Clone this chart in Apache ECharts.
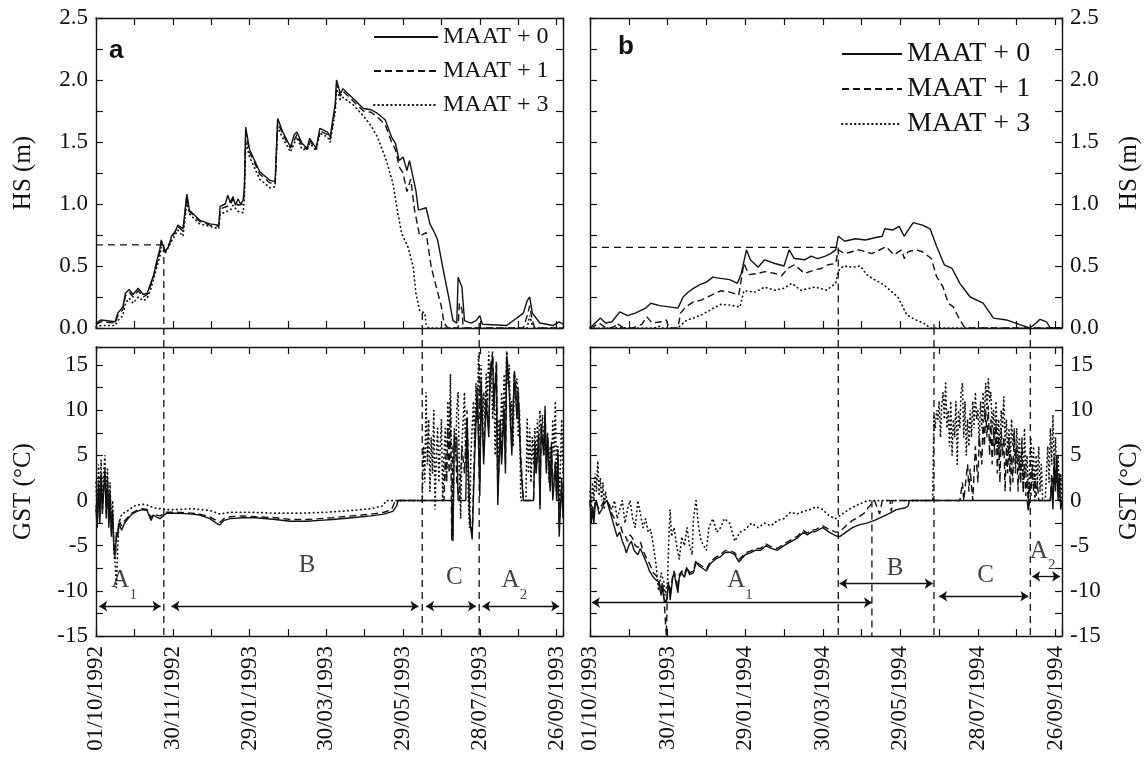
<!DOCTYPE html>
<html><head><meta charset="utf-8">
<script src="https://cdn.jsdelivr.net/npm/echarts/dist/echarts.min.js"></script>
<style>html,body{margin:0;padding:0;background:#fff}#c{width:1146px;height:779px}</style>
</head><body><div id="c"></div>
<script>
// ---------- tick labels (day offsets 0,60,...,360 from 1 October) ----------
const xLabelsA = ['01/10/1992','30/11/1992','29/01/1993','30/03/1993','29/05/1993','28/07/1993','26/09/1993'];
const xLabelsB = ['01/10/1993','30/11/1993','29/01/1994','30/03/1994','29/05/1994','28/07/1994','26/09/1994'];
const seriesNames = ['MAAT + 0','MAAT + 1','MAAT + 3'];

// ---------- panel a : snow height HS (m), [day, value] ----------
const hsA0 = [[0,0.04],[4,0.065],[15,0.05],[17,0.12],[21,0.17],[23,0.28],[26,0.31],[29,0.27],[33,0.32],[37,0.27],[40,0.28],[43,0.37],[45,0.42],[47,0.52],[50,0.64],[51,0.71],[54,0.62],[57,0.66],[59,0.74],[62,0.78],[64,0.83],[68,0.80],[71,1.08],[73,0.95],[81,0.87],[89,0.84],[96,0.83],[97,0.98],[101,1.0],[103,1.07],[105,1.01],[107,1.06],[109,0.99],[111,1.04],[113,1.0],[115,1.03],[116,1.14],[117,1.62],[120,1.44],[128,1.26],[136,1.19],[140,1.18],[142,1.69],[146,1.58],[152,1.46],[155,1.56],[157,1.58],[161,1.49],[165,1.45],[167,1.53],[172,1.45],[175,1.61],[181,1.58],[183,1.54],[187,1.81],[188,2.0],[191,1.89],[193,1.93],[201,1.85],[209,1.77],[215,1.76],[220,1.73],[226,1.68],[231,1.54],[234,1.49],[237,1.35],[240,1.38],[243,1.27],[245,1.35],[250,1.11],[252,0.95],[258,0.97],[261,0.84],[265,0.76],[267,0.71],[271,0.49],[276,0.23],[279,0.06],[282,0.04],[283,0.41],[286,0.33],[288,0.06],[293,0.04],[297,0.06],[300,0.1],[302,0.03],[321,0.02],[334,0.12],[337,0.22],[339,0.25],[341,0.12],[347,0.04],[357,0.02],[362,0.05],[365,0.03]];
const hsA1 = [[0,0.03],[4,0.05],[15,0.04],[17,0.1],[21,0.15],[23,0.26],[26,0.29],[29,0.25],[33,0.3],[37,0.25],[40,0.27],[43,0.35],[47,0.5],[50,0.62],[51,0.69],[54,0.61],[59,0.72],[64,0.82],[68,0.78],[71,1.06],[73,0.94],[81,0.86],[89,0.83],[96,0.82],[97,0.96],[105,0.99],[107,1.04],[111,0.99],[115,1.0],[116,1.12],[117,1.58],[120,1.42],[128,1.24],[136,1.17],[140,1.16],[142,1.66],[146,1.56],[152,1.45],[157,1.56],[161,1.47],[165,1.44],[167,1.51],[172,1.44],[175,1.59],[181,1.56],[183,1.52],[187,1.78],[188,1.97],[191,1.87],[193,1.91],[201,1.83],[209,1.75],[215,1.74],[220,1.7],[226,1.64],[231,1.5],[234,1.44],[237,1.3],[240,1.25],[243,1.1],[246,1.2],[249,0.95],[253,0.74],[258,0.77],[262,0.49],[266,0.33],[270,0.17],[272,0.04],[275,0],[283,0],[284,0.2],[286,0.15],[287,0],[334,0],[337,0.1],[339,0.18],[341,0.06],[343,0],[365,0]];
const hsA3 = [[0,0.01],[4,0.02],[15,0.02],[17,0.06],[21,0.1],[23,0.2],[26,0.24],[29,0.2],[33,0.25],[37,0.22],[40,0.24],[43,0.32],[47,0.47],[50,0.58],[51,0.65],[54,0.6],[59,0.7],[64,0.79],[68,0.74],[71,1.02],[73,0.92],[81,0.84],[89,0.82],[96,0.8],[97,0.92],[105,0.95],[107,0.99],[111,0.94],[115,0.93],[116,1.05],[117,1.5],[120,1.38],[128,1.2],[136,1.13],[140,1.14],[142,1.62],[146,1.53],[152,1.42],[157,1.54],[161,1.44],[165,1.44],[167,1.49],[172,1.43],[175,1.57],[181,1.54],[183,1.5],[187,1.74],[188,1.93],[191,1.84],[193,1.86],[201,1.8],[209,1.71],[215,1.63],[220,1.54],[227,1.35],[232,1.17],[236,0.92],[239,0.76],[244,0.65],[248,0.49],[250,0.28],[253,0.14],[257,0.12],[258,0.03],[260,0],[337,0],[339,0.1],[341,0.02],[343,0],[365,0]];

// ---------- panel b : snow height HS (m) ----------
const hsB0 = [[0,0],[2,0.02],[8,0.08],[12,0.04],[17,0.05],[23,0.13],[29,0.1],[35,0.12],[39,0.14],[43,0.16],[47,0.2],[54,0.18],[61,0.17],[68,0.16],[72,0.25],[76,0.29],[80,0.32],[85,0.35],[90,0.37],[95,0.41],[101,0.4],[108,0.39],[114,0.36],[117,0.44],[121,0.63],[124,0.55],[130,0.49],[135,0.55],[143,0.52],[150,0.5],[154,0.63],[158,0.56],[166,0.55],[171,0.58],[176,0.56],[182,0.58],[186,0.6],[190,0.63],[192,0.74],[197,0.7],[205,0.72],[213,0.71],[221,0.73],[226,0.74],[228,0.8],[234,0.79],[239,0.82],[243,0.74],[246,0.79],[250,0.85],[257,0.83],[263,0.8],[268,0.66],[274,0.51],[280,0.48],[286,0.36],[294,0.25],[304,0.2],[312,0.08],[322,0.065],[333,0.025],[340,0],[345,0.04],[348,0.07],[353,0.05],[356,0],[365,0]];
const hsB1 = [[0,0],[4,0.02],[7,0.04],[11,0.01],[16,0],[22,0.03],[26,0],[33,0],[40,0.03],[44,0.09],[48,0.04],[55,0.05],[59,0.065],[61,0],[68,0],[70,0.12],[74,0.17],[80,0.21],[86,0.225],[91,0.25],[97,0.28],[101,0.3],[108,0.29],[115,0.265],[119,0.52],[123,0.43],[130,0.44],[135,0.455],[143,0.44],[148,0.42],[153,0.48],[158,0.51],[166,0.44],[174,0.47],[179,0.48],[184,0.51],[190,0.52],[192,0.63],[197,0.6],[208,0.63],[218,0.6],[229,0.655],[235,0.59],[241,0.63],[243,0.56],[246,0.615],[252,0.63],[257,0.615],[264,0.56],[268,0.415],[273,0.33],[277,0.2],[281,0.17],[286,0.065],[290,0],[365,0]];
const hsB3 = [[0,0],[20,0],[22,0.03],[24,0],[50,0],[54,0.015],[56,0],[68,0],[70,0.02],[75,0.065],[80,0.08],[86,0.105],[93,0.145],[101,0.19],[108,0.185],[116,0.17],[119,0.3],[128,0.29],[135,0.33],[143,0.305],[150,0.32],[156,0.36],[163,0.305],[174,0.33],[183,0.305],[190,0.36],[192,0.46],[196,0.5],[203,0.49],[209,0.5],[214,0.43],[220,0.39],[227,0.35],[232,0.305],[238,0.25],[242,0.17],[245,0.105],[252,0.065],[258,0.04],[263,0],[365,0]];

// ---------- panel a : ground surface temperature GST (°C) ----------
const gstA0 = [[0,-1],[1,-3],[2,2],[3,-2.5],[4,3],[5,-1.5],[6,1],[7,3.5],[8,-2],[9,2.5],[10,-3],[11,1],[12,-4],[13,-1],[14,-5.5],[15,-6],[16,-3.5],[17,-4],[18,-2.5],[20,-3.3],[22,-2.6],[24,-2.2],[28,-1.5],[32,-1.2],[36,-1.0],[40,-1.1],[43,-2.2],[45,-1.6],[47,-1.8],[50,-2.0],[55,-1.4],[63,-1.4],[75,-1.5],[81,-1.6],[89,-2.0],[95,-2.6],[97,-2.7],[100,-2.2],[105,-2.0],[115,-1.9],[125,-1.9],[140,-2.1],[152,-2.3],[165,-2.3],[175,-2.2],[185,-2.1],[200,-1.9],[215,-1.7],[225,-1.5],[232,-1.2],[235,-0.6],[236,0],[278,0],[279,-4.5],[280,7],[282,7],[283,0],[289,0],[290,9],[292,-2],[294,-4.3],[296,5],[298,12],[300,0.5],[301,13],[303,4],[305,11],[307,7],[308,14],[310,16],[311,10],[313,15],[314,-0.5],[316,8],[317,4],[319,10],[320,3],[321,16],[323,12],[325,5],[327,14],[329,9],[330,12],[332,4],[334,0],[342,0],[343,6],[344,3],[346,7],[347,-1],[348,8],[350,5],[351,10],[352,3],[353,7],[355,1],[356,6],[357,0],[359,4],[360,0],[361,5],[362,-4],[364,2],[365,-2]];
const gstA1 = [[0,-0.5],[1,-2.5],[2,1.5],[3,-2],[4,2.5],[5,-1],[6,1.5],[7,3],[8,-1.5],[9,2],[10,-2.5],[11,0.5],[12,-3.5],[13,-1.5],[14,-5],[15,-6.5],[16,-4],[17,-3.5],[18,-2.2],[20,-2.8],[22,-2.3],[24,-2.0],[28,-1.4],[32,-1.1],[36,-0.9],[40,-1.0],[43,-1.9],[45,-1.5],[47,-1.6],[50,-1.7],[55,-1.3],[63,-1.3],[75,-1.4],[81,-1.5],[89,-1.8],[95,-2.3],[97,-2.4],[100,-2.0],[105,-1.8],[115,-1.7],[125,-1.8],[140,-1.9],[152,-2.1],[165,-2.1],[175,-2.0],[185,-1.9],[200,-1.7],[215,-1.5],[225,-1.3],[231,-1.0],[234,0],[272,0],[273,5],[274,2],[275,8],[276,3],[277,11],[278,-4.4],[279,6],[281,7],[282,2],[284,0],[286,6],[288,3],[290,10],[292,-1.5],[294,-4],[296,7],[298,12.5],[300,2],[301,13.5],[303,5],[305,12],[307,8],[308,14.5],[310,16.5],[311,11],[313,15.5],[314,0.5],[316,9],[317,5],[319,11],[320,4],[321,16.5],[323,12.5],[325,6],[327,14.5],[329,10],[330,12.5],[332,5],[334,0],[342,0],[343,6.5],[344,3.5],[346,7.5],[347,-0.5],[348,8.5],[350,5.5],[351,10.5],[352,3.5],[353,7.5],[355,1.5],[356,6.5],[357,0.5],[359,4.5],[360,0.5],[361,5.5],[362,-3],[364,2.5],[365,-1]];
const gstA3 = [[0,2],[1,-2],[2,4],[3,0],[4,4.5],[5,-1],[6,3],[7,5],[8,0],[9,3.5],[10,-2],[11,2],[12,-3],[13,0],[14,-6],[15,-7],[16,-9.7],[17,-5],[18,-2.5],[20,-1.5],[24,-1.2],[30,-0.6],[36,-0.4],[40,-0.5],[45,-0.8],[50,-0.9],[55,-1.0],[63,-1.0],[75,-0.9],[89,-1.1],[97,-1.5],[105,-1.3],[120,-1.3],[140,-1.4],[160,-1.4],[180,-1.3],[200,-1.1],[215,-0.9],[224,-0.6],[227,0],[255,0],[256,6],[257,2],[258,12],[259,4],[260,9],[261,1],[262,7],[263,3],[264,10],[265,-1],[266,5],[267,8],[268,2],[269,6],[270,9],[271,0],[272,5],[273,8],[274,2],[275,11],[276,6],[277,14],[278,3],[279,-4],[280,8],[281,5],[282,10],[283,12],[284,3],[285,-2],[286,6],[287,9],[288,12],[289,4],[290,9],[291,0],[292,-3],[293,5],[294,8],[295,11],[296,6],[297,13],[298,9],[299,16],[300,10],[301,15],[302,7],[303,12],[304,9],[305,14],[306,11],[307,16.5],[308,12],[309,15],[310,9],[311,13],[312,5],[313,11],[314,3],[315,9],[316,6],[317,12],[318,8],[319,14],[320,10],[321,16.5],[322,13],[323,15],[324,8],[325,11],[326,6],[327,14],[328,12],[329,13.5],[330,7],[331,10],[332,0],[336,0],[337,9],[338,3],[339,8],[340,2],[341,7],[342,4],[343,8],[344,3],[345,9],[346,6],[347,10],[348,7],[349,9.5],[350,5],[351,8],[352,4],[353,7],[354,2],[355,6],[356,3],[357,9],[358,5],[359,11],[360,2],[361,6],[362,-1],[363,4],[364,9],[365,3]];

// ---------- panel b : ground surface temperature GST (°C) ----------
const gstB0 = [[0,0],[1,-2.5],[2,-1],[3,-2.5],[4,-0.5],[5,0],[7,-1.5],[9,-1],[11,-0.3],[13,0],[15,-1],[17,-2],[19,-3],[21,-4],[23,-3.5],[25,-4.5],[27,-5.2],[28,-5.8],[30,-5],[32,-4.5],[34,-5.5],[37,-6],[39,-5.3],[41,-6],[44,-7],[46,-7.8],[49,-8.5],[51,-8.8],[53,-9],[55,-10.5],[56,-9.5],[57,-10.8],[59,-11.3],[60,-10],[61,-9.3],[62,-11],[64,-8.5],[65,-8],[67,-9.5],[68,-10.2],[69,-8.5],[71,-8],[73,-8.5],[75,-7.5],[77,-8.2],[80,-8],[82,-6.8],[84,-7.2],[87,-7.5],[90,-7.8],[93,-7],[97,-6.5],[101,-6.2],[104,-5.8],[108,-5.7],[112,-6],[115,-6.8],[117,-6.5],[120,-6],[124,-5.8],[128,-5.5],[132,-5.5],[136,-5],[140,-5.3],[145,-5.5],[150,-5],[156,-4.5],[160,-4.2],[165,-3.5],[168,-3.8],[171,-3.5],[175,-3.4],[180,-3],[185,-3.5],[190,-3.9],[193,-4],[198,-3.5],[203,-3],[208,-2.7],[214,-2.5],[220,-2.2],[226,-1.8],[232,-1.4],[237,-1],[244,-0.8],[246,-0.6],[247,0],[338,0],[339,-1.1],[340,0],[356,0],[357,2],[358,-1],[359,4],[360,1],[361,5],[362,0],[363,3],[364,-1],[365,0]];
const gstB1 = [[0,0],[1,-2],[2,-0.5],[3,-2],[4,0],[7,-1],[9,-0.5],[11,0],[13,0],[15,-0.5],[17,-1.5],[19,-2],[21,-2.8],[23,-2.5],[25,-3.5],[27,-3.8],[29,-4.5],[31,-3.8],[33,-4.2],[35,-5],[37,-5.2],[39,-4.6],[41,-5.5],[44,-6.5],[46,-7],[49,-8],[51,-8.3],[53,-8.8],[55,-10],[56,-9],[57,-10.3],[59,-15],[60,-9.5],[61,-9],[62,-10.5],[64,-8.2],[65,-7.8],[67,-9],[68,-9.8],[69,-8.2],[71,-7.8],[73,-8.2],[75,-7.3],[77,-8],[80,-7.8],[82,-6.6],[84,-7],[87,-7.3],[90,-7.6],[93,-6.8],[97,-6.3],[101,-6],[104,-5.6],[108,-5.5],[112,-5.8],[115,-6.5],[117,-6.3],[120,-5.8],[124,-5.6],[128,-5.3],[132,-5.3],[136,-4.8],[140,-5.1],[145,-5.3],[150,-4.8],[156,-4.3],[160,-4],[165,-3.3],[168,-3.6],[171,-3.3],[175,-3.2],[180,-2.8],[185,-3.2],[190,-3.5],[193,-3.5],[198,-2.8],[203,-2.2],[208,-1.8],[212,-1.4],[215,-0.8],[218,-0.3],[220,0],[224,-1.5],[226,0],[232,0],[233,-1.2],[234,0],[286,0],[288,2],[289,0],[292,4],[293,1],[294,3.5],[296,0],[298,6],[300,2],[301,7],[303,4],[304,9],[305,6],[306,10],[307,7],[308,10.5],[309,5],[310,9],[311,4],[312,8],[313,5],[314,9],[315,3],[316,7],[317,2],[318,8],[319,5],[320,7],[321,1],[322,6],[323,3],[324,7],[325,1],[326,5],[327,2],[328,8],[329,4],[330,6],[331,1],[332,5],[333,2],[334,7],[335,1],[336,4],[337,0.5],[338,3],[339,-1],[340,2],[341,0.5],[342,4],[343,1],[344,3],[345,0.5],[346,2],[347,0],[356,0],[357,3],[358,1],[359,5],[360,2],[361,4],[362,0],[365,0]];
const gstB3 = [[0,1],[1,-1],[2,2],[3,0],[4,3],[5,1],[6,4.4],[7,0.5],[8,2.5],[9,0],[10,2],[11,-1],[12,1],[13,0],[15,-0.5],[17,-1],[19,0],[21,-2],[23,-1],[25,0],[27,-2.5],[29,-1],[31,0],[33,-2],[35,-3],[37,0],[39,-1.5],[41,-3],[43,-2],[45,-3.5],[47,-3.2],[49,-5],[51,-7],[53,-10],[55,-8],[57,-9],[58,-10.5],[60,-9],[61,-4],[62,-1],[63,-4],[65,-3],[67,-5],[69,-6.5],[71,-4],[73,-5],[75,-3],[77,-5],[79,-6],[80,-2],[82,0],[84,-3],[86,-4.5],[88,-5],[90,-5.5],[92,-3],[95,-2],[98,-3.5],[101,-3],[104,-2],[108,-2.5],[112,-4.5],[116,-3.5],[120,-3.2],[125,-2.5],[130,-3],[135,-2.5],[140,-2.8],[145,-2.2],[150,-2],[155,-1.3],[160,-1.5],[165,-1.2],[170,-1],[175,-0.7],[180,-1],[185,-1.7],[190,-2],[195,-1.5],[200,-1],[205,-0.6],[210,-0.3],[215,0],[265,0],[266,9.5],[267,8],[268,10],[269,9],[270,11],[271,7],[272,10.5],[273,12],[274,9],[275,13],[276,8],[277,10],[278,6],[279,11],[280,5],[281,9],[282,7],[283,11],[284,4],[285,10],[286,8],[287,12],[288,13],[289,7],[290,11],[291,5],[292,9],[293,6],[294,10],[295,7],[296,11],[297,8],[298,12],[299,9],[300,10],[301,6],[302,11],[303,8],[304,12],[305,9],[306,13],[307,10],[308,13.5],[309,11],[310,12],[311,8],[312,10],[313,7],[314,11],[315,6],[316,9],[317,5],[318,10],[319,8],[320,11.5],[321,6],[322,9],[323,5],[324,8],[325,4],[326,9],[327,6],[328,7.5],[329,3],[330,8],[331,4],[332,7],[333,2],[334,6],[335,1],[336,8],[337,3],[338,5],[339,0],[340,4],[341,7],[342,2],[343,6],[344,0],[345,5],[346,2],[347,6],[348,1],[349,4],[350,0],[352,0],[353,3],[354,6],[355,2],[356,8],[357,4],[358,9.5],[359,3],[360,7],[361,2],[362,5],[363,0],[364,3],[365,0]];

// ---------- phase annotations (days, HS / GST values) ----------
const hsThresholdA = 0.67, hsThresholdB = 0.65;
const boundsA = [53, 255, 299.5];          // dashed phase boundaries, panel a
const boundHsA = [0.67, 0.12, 0.04];       // where each boundary starts in the HS panel
const boundsB = [192, 218, 266, 340.5];    // panel b
const boundHsB = [0.65, null, 0.03, 0.03];
const boundGstTopB = [null, 0, null, null]; // boundary drawn only in GST panel from this value
const arrowsA = [[2.5,50.5,-11.7],[59,252,-11.7],[258,297,-11.7],[302,362,-11.7]];
const arrowsB = [[1.5,218,-11.3],[193,265,-9.2],[270,339,-10.6],[342,363.5,-8.4]];
const phaseA = [['A','1',22,-9.4],['B','',165,-7.7],['C','',280,-9.0],['A','2',327,-9.4]];
const phaseB = [['A','1',116,-9.4],['B','',236,-8.0],['C','',306,-8.8],['A','2',350,-6.1]];

// ---------- chart ----------
const SERIF = '"Liberation Serif","Times New Roman",serif';
const INK = '#111';
const GAP_TOP = 19.1; // GST value reaching up through the gap between panels

const grids = [
  {left:96, top:18, width:467, height:310, outerBoundsMode:'none'},
  {left:96, top:347, width:467, height:289, outerBoundsMode:'none'},
  {left:590, top:18, width:472, height:310, outerBoundsMode:'none'},
  {left:590, top:347, width:472, height:289, outerBoundsMode:'none'}
];
const axLine = {show:true, onZero:false, lineStyle:{color:INK, width:1.4}};
const axTick = {show:true, inside:true, length:7, lineStyle:{color:INK, width:1.2}};
function xAx(g, pos, labels) {
  return {type:'value', gridIndex:g, position:pos, min:0, max:365, interval:30,
    axisLine:axLine, axisTick:axTick, splitLine:{show:false},
    axisLabel: labels ? {show:true, rotate:90, margin:10, fontFamily:SERIF, fontSize:23, color:INK,
      formatter: v => (v % 60 === 0 && v/60 < labels.length) ? labels[v/60] : ''} : {show:false}};
}
function yAx(g, pos, kind, showLabel) {
  const isHS = kind === 'HS';
  const o = {type:'value', gridIndex:g, position:pos,
    min: isHS ? 0 : -15, max: isHS ? 2.5 : 17, interval: isHS ? 0.25 : 2.5,
    axisLine:axLine, axisTick:axTick, splitLine:{show:false},
    axisLabel: showLabel ? {show:true, margin:8, fontFamily:SERIF, fontSize:23, color:INK,
      formatter: v => isHS ? (Math.abs(v*2 - Math.round(v*2)) < 1e-6 ? v.toFixed(1) : '')
                           : ((v % 5 === 0 && v <= 15) ? String(v) : '')} : {show:false}};
  if (showLabel) {
    o.name = isHS ? 'HS (m)' : 'GST (°C)';
    o.nameLocation = 'middle'; o.nameRotate = 90;
    o.nameGap = pos === 'left' ? 60 : 55;
    o.nameTextStyle = {fontFamily:SERIF, fontSize:25, color:INK};
  }
  return o;
}
const xAxis = [xAx(0,'bottom'), xAx(0,'top'), xAx(1,'bottom',xLabelsA), xAx(1,'top'),
               xAx(2,'bottom'), xAx(2,'top'), xAx(3,'bottom',xLabelsB), xAx(3,'top')];
const yAxis = [yAx(0,'left','HS',true), yAx(0,'right','HS',false),
               yAx(1,'left','GST',true), yAx(1,'right','GST',false),
               yAx(2,'left','HS',false), yAx(2,'right','HS',true),
               yAx(3,'left','GST',false), yAx(3,'right','GST',true)];

const styles = [
  {color:INK, width:1.4, type:'solid'},
  {color:INK, width:1.4, type:[7,4]},
  {color:INK, width:1.7, type:[0.5,3.8], cap:'round'}
];
function ser(name, data, xi, yi, st, extra) {
  return Object.assign({type:'line', name, data, xAxisIndex:xi, yAxisIndex:yi, symbol:'none',
    lineStyle:st, itemStyle:{color:INK}, animation:false, silent:true}, extra || {});
}
const guideStyle = {color:INK, width:1.3, type:[7,5]};
const series = [];
[[hsA0,hsA1,hsA3,0,0],[gstA0,gstA1,gstA3,2,2],[hsB0,hsB1,hsB3,4,5],[gstB0,gstB1,gstB3,6,7]].forEach(p => {
  series.push(ser(seriesNames[0], p[0], p[3], p[4], styles[0], {z:4}));
  series.push(ser(seriesNames[1], p[1], p[3], p[4], styles[1], {z:3}));
  series.push(ser(seriesNames[2], p[2], p[3], p[4], styles[2], {z:2}));
});
// guide lines panel a
series.push(ser('g', [[0,hsThresholdA],[boundsA[0],hsThresholdA]], 0, 0, guideStyle));
boundsA.forEach((d,i) => {
  series.push(ser('g', [[d,boundHsA[i]],[d,0]], 0, 0, guideStyle));
  series.push(ser('g', [[d,GAP_TOP],[d,-15]], 2, 2, guideStyle, {clip:false}));
});
// guide lines panel b
series.push(ser('g', [[0,hsThresholdB],[boundsB[0],hsThresholdB]], 4, 5, guideStyle));
boundsB.forEach((d,i) => {
  if (boundHsB[i] !== null) series.push(ser('g', [[d,boundHsB[i]],[d,0]], 4, 5, guideStyle));
  const top = boundGstTopB[i] !== null ? boundGstTopB[i] : GAP_TOP;
  series.push(ser('g', [[d,top],[d,-15]], 6, 7, guideStyle, {clip:false}));
});
// arrows
function arrowSeries(arr, xi, yi) {
  return {type:'line', name:'arrows', data:[], xAxisIndex:xi, yAxisIndex:yi, silent:true, animation:false,
    markLine:{silent:true, animation:false, symbol:['arrow','arrow'], symbolSize:8,
      lineStyle:{color:INK, width:1.3, type:'solid'}, label:{show:false},
      data: arr.map(a => [{coord:[a[0],a[2]]},{coord:[a[1],a[2]]}])}};
}
series.push(arrowSeries(arrowsA, 2, 2), arrowSeries(arrowsB, 6, 7));
// phase labels
function labelSeries(arr, xi, yi) {
  return {type:'scatter', name:'labels', xAxisIndex:xi, yAxisIndex:yi, symbolSize:0, silent:true, animation:false,
    data: arr.map(p => ({value:[p[2],p[3]],
      label:{formatter: p[1] ? '{m|'+p[0]+'}{s|'+p[1]+'}' : '{m|'+p[0]+'}'}})),
    label:{show:true, position:'inside', color:INK,
      rich:{m:{fontFamily:SERIF, fontSize:25, color:INK, lineHeight:34, verticalAlign:'top'},
            s:{fontFamily:SERIF, fontSize:15, color:INK, lineHeight:15, verticalAlign:'bottom'}}}};
}
series.push(labelSeries(phaseA, 2, 2), labelSeries(phaseB, 6, 7));

const legendCommon = {data:seriesNames, orient:'vertical', itemHeight:12, selectedMode:false,
  itemStyle:{opacity:0, borderWidth:0}, icon:undefined};
const chart = echarts.init(document.getElementById('c'));
chart.setOption({
  backgroundColor:'#fff',
  animation:false,
  grid: grids,
  xAxis, yAxis, series,
  legend: [
    Object.assign({}, legendCommon, {left:368, top:20, itemWidth:64, itemGap:10,
      textStyle:{fontFamily:SERIF, fontSize:24, color:INK}}),
    Object.assign({}, legendCommon, {left:836, top:35, itemWidth:60, itemGap:7,
      textStyle:{fontFamily:SERIF, fontSize:28, color:INK}})
  ],
  graphic: [
    {type:'text', left:109, top:38, style:{text:'a', font:'bold 26px "Liberation Sans", Arial, sans-serif', fill:INK}},
    {type:'text', left:618, top:34, style:{text:'b', font:'bold 26px "Liberation Sans", Arial, sans-serif', fill:INK}}
  ]
});
</script></body></html>
